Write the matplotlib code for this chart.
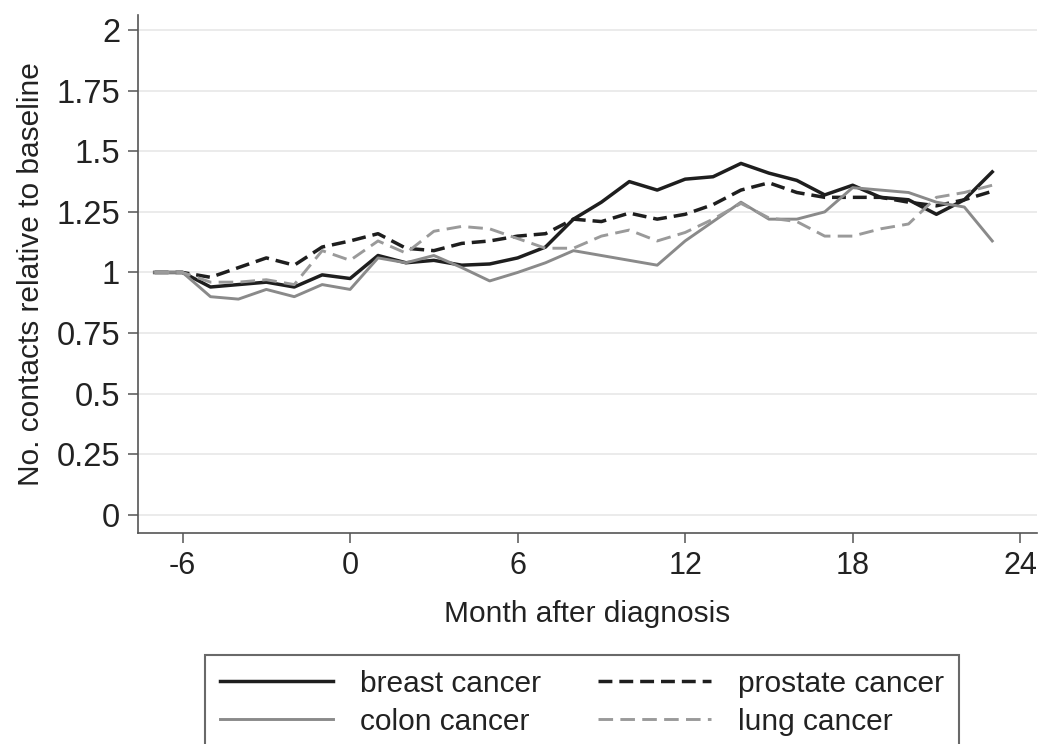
import matplotlib
matplotlib.use("Agg")
import matplotlib.pyplot as plt

plt.rcParams['font.family'] = ['Liberation Sans', 'DejaVu Sans']
plt.rcParams['axes.unicode_minus'] = False

months = list(range(-7, 24))

breast = [1.00, 1.00, 0.94, 0.95, 0.96, 0.94, 0.99, 0.975, 1.07, 1.04, 1.05, 1.03,
          1.035, 1.06, 1.105, 1.22, 1.29, 1.375, 1.34, 1.385, 1.395, 1.45, 1.41,
          1.38, 1.32, 1.36, 1.31, 1.30, 1.24, 1.30, 1.415]
prostate = [1.00, 1.00, 0.98, 1.02, 1.06, 1.03, 1.105, 1.13, 1.16, 1.10, 1.09, 1.12,
            1.13, 1.15, 1.16, 1.22, 1.21, 1.245, 1.22, 1.24, 1.28, 1.34, 1.37,
            1.33, 1.31, 1.31, 1.31, 1.29, 1.275, 1.30, 1.335]
colon = [1.00, 1.00, 0.90, 0.89, 0.93, 0.90, 0.95, 0.93, 1.06, 1.04, 1.07, 1.02,
         0.965, 1.00, 1.04, 1.09, 1.07, 1.05, 1.03, 1.13, 1.21, 1.29, 1.22,
         1.22, 1.25, 1.35, 1.34, 1.33, 1.29, 1.27, 1.13]
lung = [1.00, 1.00, 0.96, 0.96, 0.97, 0.95, 1.09, 1.05, 1.13, 1.08, 1.17, 1.19,
        1.18, 1.14, 1.10, 1.10, 1.15, 1.175, 1.13, 1.165, 1.22, 1.285, 1.225,
        1.21, 1.15, 1.15, 1.18, 1.20, 1.31, 1.33, 1.36]

yticks = [0, 0.25, 0.5, 0.75, 1, 1.25, 1.5, 1.75, 2]
ytick_labels = ['0', '0.25', '0.5', '0.75', '1', '1.25', '1.5', '1.75', '2']
xticks = [-6, 0, 6, 12, 18, 24]

fig = plt.figure(figsize=(10.39, 7.44), dpi=100)
ax = fig.add_axes([0.133, 0.284, 0.865, 0.696])

# lines
l1, = ax.plot(months, breast, color='#1e1e1e', lw=2.5, label='breast cancer')
l2, = ax.plot(months, prostate, color='#1e1e1e', lw=2.5, linestyle=(0, (4, 2)),
              label='prostate cancer')
l3, = ax.plot(months, colon, color='#8a8a8a', lw=2.1, label='colon cancer')
l4, = ax.plot(months, lung, color='#9a9a9a', lw=2.1, linestyle=(0, (5, 2.5)),
              label='lung cancer')

ax.set_xlim(-7.59, 24.6)
ax.set_ylim(-0.074, 2.063)
ax.set_xticks(xticks)
ax.set_yticks(yticks)
ax.set_yticklabels(ytick_labels)
ax.yaxis.grid(True, color='#e9e9e9', lw=1.3)
ax.set_axisbelow(True)

for s in ['top', 'right']:
    ax.spines[s].set_visible(False)
for s in ['left', 'bottom']:
    ax.spines[s].set_color('#555555')
    ax.spines[s].set_linewidth(1.2)
ax.tick_params(axis='both', direction='out', length=7, width=1.1, color='#555555',
               labelcolor='#222222', pad=6)
ax.tick_params(axis='x', labelsize=22)
ax.tick_params(axis='y', labelsize=23.5)

ax.set_xlabel("Month after diagnosis", fontsize=21.5, color='#222222', labelpad=14)
ax.set_ylabel("No. contacts relative to baseline", fontsize=21.5, color='#222222',
              labelpad=8)

leg = fig.legend(handles=[l1, l3, l2, l4], ncol=2, loc='upper left',
                 bbox_to_anchor=(0.197, 0.12), fontsize=21.5, frameon=True,
                 fancybox=False, edgecolor='#444444', handlelength=3.8,
                 handletextpad=0.9, columnspacing=1.9, labelspacing=0.33,
                 borderpad=0.5, borderaxespad=0)
leg.get_frame().set_linewidth(1.5)
for t in leg.get_texts():
    t.set_color('#222222')

fig.savefig("out.png", dpi=100)
